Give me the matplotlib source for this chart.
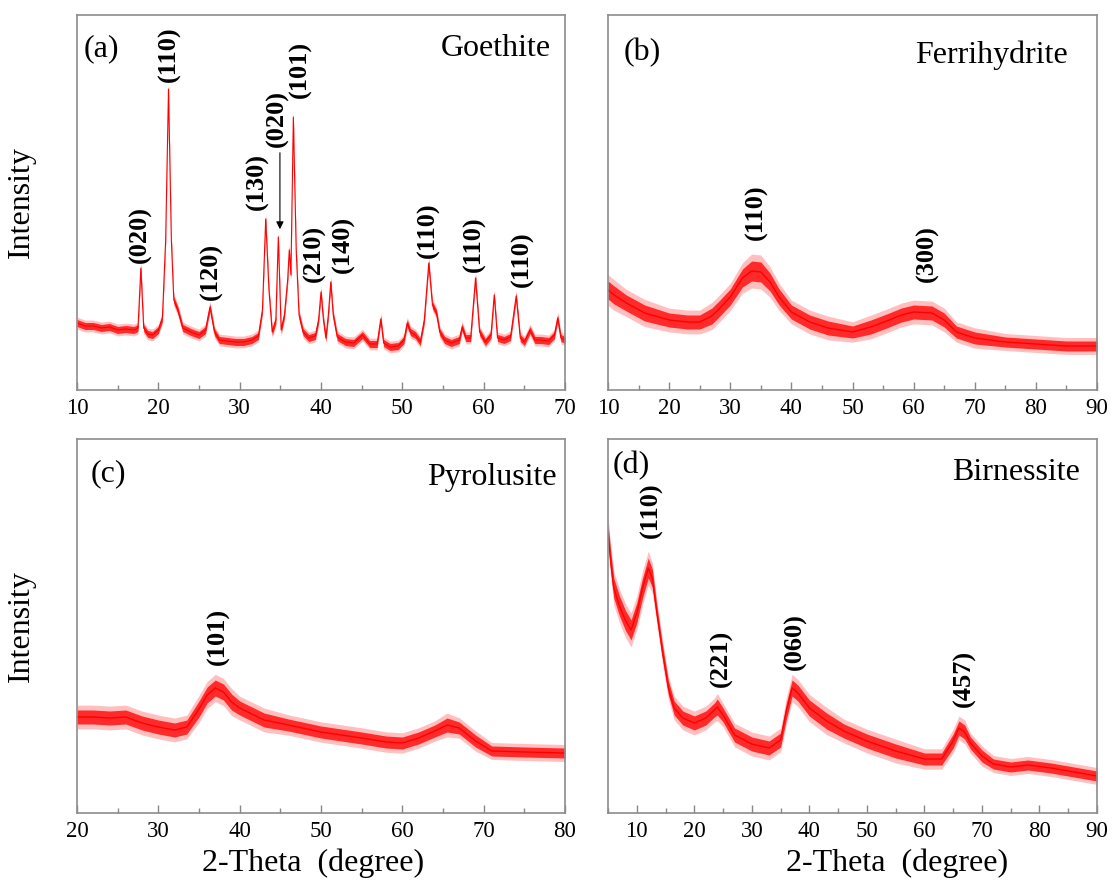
import matplotlib
matplotlib.use("Agg")
import numpy as np
import matplotlib.pyplot as plt
import matplotlib.ticker as ticker

plt.rcParams['font.family'] = ['Liberation Serif', 'DejaVu Serif']

# ----------------- DATA (intensity in arbitrary units) -----------------

# (a) goethite
goe_2theta = [10.0, 11.0, 12.0, 13.0, 14.0, 15.0, 16.0, 17.0, 17.5, 17.85, 18.2, 18.7, 19.3,
              20.0, 20.5, 20.9, 21.25, 21.6, 21.9, 22.4, 23.0, 24.0, 25.0, 25.8, 26.35, 26.9,
              27.5, 28.5, 29.5, 30.5, 31.5, 32.3, 32.8, 33.2, 33.6, 34.0, 34.45, 34.75, 35.1,
              35.5, 35.9, 36.1, 36.3, 36.6, 36.95, 37.3, 37.8, 38.5, 39.3, 39.7, 40.0, 40.3,
              40.6, 40.9, 41.2, 41.5, 42.0, 43.0, 44.0, 45.1, 46.0, 46.9, 47.35, 47.7, 48.5,
              49.5, 50.2, 50.6, 51.0, 51.6, 52.2, 52.7, 53.25, 53.7, 54.2, 54.6, 55.2, 56.0,
              57.0, 57.35, 57.8, 58.4, 59.0, 59.5, 60.2, 60.9, 61.3, 61.7, 62.5, 63.3, 64.0,
              64.5, 65.0, 65.7, 66.3, 67.0, 68.0, 68.7, 69.1, 69.5, 70.0]
goe_int = [67, 64, 64, 62, 63, 60, 61, 60, 62, 122, 62, 56, 55,
           60, 72, 150, 301, 150, 90, 80, 62, 58, 55, 60, 83, 58,
           50, 49, 48, 48, 50, 54, 80, 171, 100, 58, 70, 153, 60,
           75, 110, 140, 115, 273, 140, 75, 58, 52, 54, 70, 98, 70,
           52, 75, 108, 75, 53, 48, 47, 55, 46, 46, 71, 47, 43,
           44, 50, 67, 58, 55, 48, 70, 127, 85, 77, 58, 50, 47,
           50, 63, 52, 52, 112, 58, 48, 55, 95, 52, 50, 53, 94,
           52, 48, 60, 50, 50, 49, 55, 72, 52, 50]
goe_spread = 3.5

# (b) ferrihydrite
fer_2theta = [10, 11, 13, 16, 20, 23, 25, 27, 28, 30, 32, 33.5, 35, 36.5, 38, 40, 43, 46,
              50, 53, 56, 58, 60, 63, 65, 67, 70, 75, 80, 85, 90]
fer_int = [100, 95, 87, 77, 70, 68, 68, 74, 80, 93, 112, 119, 118, 108, 93, 78, 68, 62,
           58, 63, 70, 75, 78, 77, 70, 58, 52, 48, 46, 44, 44]
fer_spread = [9, 9, 8, 8, 7, 7, 7, 8, 8, 8, 9, 10, 10, 9, 8, 7, 7, 7,
              6, 7, 7, 7, 7, 7, 7, 6, 6, 5, 5, 5, 5]

# (c) pyrolusite
pyr_2theta = [20, 22, 24, 26, 28, 30, 32, 33.5, 35, 36, 37, 38, 39, 40, 41, 43, 46, 50,
              55, 58, 60, 62, 64, 65.5, 67, 69, 71, 75, 80]
pyr_int = [96, 96, 95, 96, 90, 86, 83, 86, 104, 118, 125, 121, 111, 105, 101, 93, 88, 81,
           75, 71, 70, 75, 82, 88, 85, 72, 62, 61, 60]
pyr_spread = [7, 7, 7, 7, 7, 7, 7, 7, 8, 8, 8, 8, 8, 7, 7, 7, 6, 6,
              6, 6, 6, 6, 6, 7, 6, 6, 5, 5, 5]

# (d) birnessite
bir_2theta = [5, 5.5, 6, 7, 8, 9, 10, 11, 12, 12.7, 13.5, 14.5, 15.5, 16.5, 18, 20, 22,
              23.5, 24, 25, 27, 30, 33, 35, 36, 37, 38, 40, 43, 46, 50, 55, 60, 63, 65,
              66, 67, 68, 70, 72, 75, 78, 82, 86, 90]
bir_int = [280, 250, 225, 207, 193, 183, 200, 225, 245, 235, 200, 160, 125, 105, 95, 90, 95,
           103, 106, 98, 78, 69, 65, 73, 102, 125, 120, 105, 92, 82, 72, 62, 54, 54, 72,
           85, 81, 70, 57, 49, 46, 48, 45, 41, 37]
bir_spread = [10, 10, 10, 10, 10, 10, 10, 10, 10, 9, 7, 7, 7, 7, 7, 7, 7,
              7, 8, 7, 7, 7, 7, 7, 8, 8, 8, 8, 8, 7, 7, 7, 6, 6, 7,
              7, 7, 6, 6, 5, 5, 5, 5, 5, 5]

# reflection labels: text, 2theta, intensity at label base
goe_hkl = ['(020)', '(110)', '(120)', '(130)', '(020)', '(101)', '(210)', '(140)', '(110)', '(110)', '(110)']
goe_hkl_x = [17.8, 21.3, 26.5, 32.2, 34.6, 37.5, 39.2, 42.8, 53.2, 58.9, 64.8]
goe_hkl_y = [127, 308, 90, 180, 243, 292, 108, 117, 132, 118, 103]

fer_hkl = ['(110)', '(300)']
fer_hkl_x = [34.3, 62.2]
fer_hkl_y = [150, 108]

pyr_hkl = ['(101)']
pyr_hkl_x = [37.4]
pyr_hkl_y = [148]

bir_hkl = ['(110)', '(221)', '(060)', '(457)']
bir_hkl_x = [12.5, 24.7, 37.6, 67.0]
bir_hkl_y = [275, 126, 143, 106]

# ----------------- FIGURE -----------------

fig = plt.figure(figsize=(11.12, 8.91), dpi=100)
W, H = 1112, 891

def add_panel(left, top, right, bottom):
    return fig.add_axes([left / W, (H - bottom) / H, (right - left) / W, (bottom - top) / H])

ax_a = add_panel(77, 15, 565, 390)
ax_b = add_panel(608, 15, 1097, 390)
ax_c = add_panel(77, 439, 565, 813)
ax_d = add_panel(608, 439, 1097, 813)

RED = '#ff0000'

def draw_pattern(ax, x, y, spread, lw):
    x = np.array(x, dtype=float)
    y = np.array(y, dtype=float)
    s = np.array(spread, dtype=float) if np.ndim(spread) else spread
    # light outer fringe, dense core, then the trace itself
    ax.fill_between(x, y - 1.7 * s, y + 1.7 * s, color='#ff4a4a', alpha=0.35, lw=0)
    ax.fill_between(x, y - s, y + s, color='#ff1010', alpha=0.85, lw=0)
    ax.plot(x, y, color=RED, lw=lw)

def label_peaks(ax, names, xs, ys):
    for name, x, y in zip(names, xs, ys):
        ax.text(x, y, name, rotation=90, ha='center', va='bottom',
                fontsize=19, fontweight='bold')

panels = [
    (ax_a, goe_2theta, goe_int, goe_spread, 0.8, (10, 70), 375, '(a)', 'Goethite', goe_hkl, goe_hkl_x, goe_hkl_y),
    (ax_b, fer_2theta, fer_int, fer_spread, 1.0, (10, 90), 375, '(b)', 'Ferrihydrite', fer_hkl, fer_hkl_x, fer_hkl_y),
    (ax_c, pyr_2theta, pyr_int, pyr_spread, 1.0, (20, 80), 374, '(c)', 'Pyrolusite', pyr_hkl, pyr_hkl_x, pyr_hkl_y),
    (ax_d, bir_2theta, bir_int, bir_spread, 1.0, (5, 90), 374, '(d)', 'Birnessite', bir_hkl, bir_hkl_x, bir_hkl_y),
]

for ax, x, y, s, lw, xlim, ytop, tag, name, hkl, hx, hy in panels:
    draw_pattern(ax, x, y, s, lw)
    label_peaks(ax, hkl, hx, hy)
    ax.set_xlim(xlim)
    ax.set_ylim(0, ytop)
    ax.set_yticks([])
    ax.xaxis.set_major_locator(ticker.MultipleLocator(10))
    ax.xaxis.set_minor_locator(ticker.MultipleLocator(5))
    ax.tick_params(axis='x', which='major', direction='in', length=6, width=1,
                   color='#888888', labelsize=16.5, pad=6)
    ax.tick_params(axis='x', which='minor', direction='in', length=3.5, width=1,
                   color='#888888')
    for sp in ax.spines.values():
        sp.set_color('#8c8c8c')
        sp.set_linewidth(1.2)

# panel tags and mineral names
ax_a.text(0.013, 0.91, '(a)', transform=ax_a.transAxes, fontsize=23, va='center', ha='left')
ax_a.text(0.972, 0.91, 'Goethite', transform=ax_a.transAxes, fontsize=23, va='center', ha='right')
ax_b.text(0.031, 0.90, '(b)', transform=ax_b.transAxes, fontsize=23, va='center', ha='left')
ax_b.text(0.941, 0.893, 'Ferrihydrite', transform=ax_b.transAxes, fontsize=23, va='center', ha='right')
ax_c.text(0.027, 0.908, '(c)', transform=ax_c.transAxes, fontsize=23, va='center', ha='left')
ax_c.text(0.984, 0.898, 'Pyrolusite', transform=ax_c.transAxes, fontsize=23, va='center', ha='right')
ax_d.text(0.010, 0.928, '(d)', transform=ax_d.transAxes, fontsize=23, va='center', ha='left')
ax_d.text(0.965, 0.910, 'Birnessite', transform=ax_d.transAxes, fontsize=23, va='center', ha='right')

# arrow to the small (020) reflection
ax_a.annotate('', xy=(34.95, 158), xytext=(34.95, 240),
              arrowprops=dict(arrowstyle='-|>', color='black', lw=0.8, mutation_scale=11))

# axis titles
for ax in (ax_a, ax_c):
    ax.text(-0.113, 0.5, 'Intensity', transform=ax.transAxes, rotation=90,
            fontsize=23, ha='center', va='center')
ax_c.text(0.484, -0.134, '2-Theta  (degree)', transform=ax_c.transAxes,
          fontsize=23, ha='center', va='center')
ax_d.text(0.591, -0.134, '2-Theta  (degree)', transform=ax_d.transAxes,
          fontsize=23, ha='center', va='center')

fig.savefig('out.png', dpi=100)
